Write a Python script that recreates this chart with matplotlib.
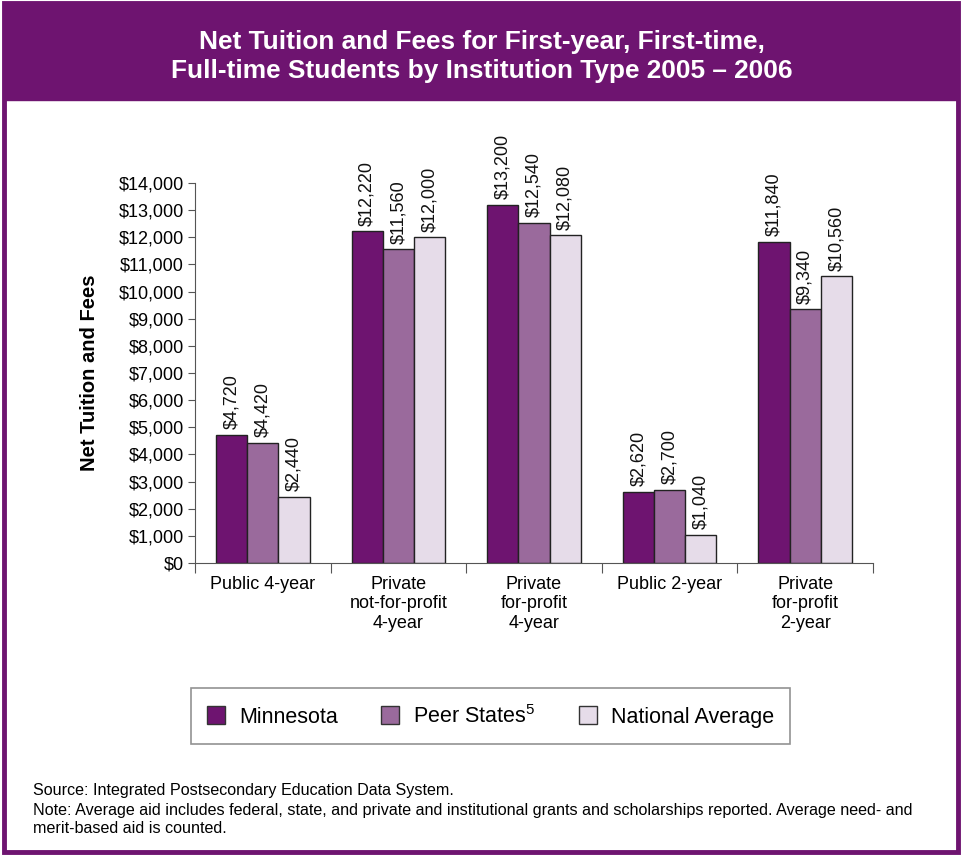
import numpy as np
import matplotlib
matplotlib.use('Agg')
import matplotlib.pyplot as plt
from matplotlib.patches import Rectangle, Patch

plt.rcParams.update({
    'font.family': ['Liberation Sans', 'DejaVu Sans'],
    'mathtext.default': 'regular',
    'font.size': 11,
})

# data
categories = ['Public 4-year', 'Private\nnot-for-profit\n4-year', 'Private\nfor-profit\n4-year',
              'Public 2-year', 'Private\nfor-profit\n2-year']
minnesota = [4720, 12220, 13200, 2620, 11840]
peer_states = [4420, 11560, 12540, 2700, 9340]
national_avg = [2440, 12000, 12080, 1040, 10560]
series_names = ['Minnesota', 'Peer States$^{5}$', 'National Average']
colors = ['#6E1470', '#9A6A9C', '#E6DCE9']

PURPLE = '#6E1470'

fig = plt.figure(figsize=(9.64, 8.55), dpi=100, facecolor='white')

# frame + title band
fig.patches.append(Rectangle((0.004, 0.883), 0.990, 0.114, transform=fig.transFigure,
                             facecolor=PURPLE, edgecolor=PURPLE, linewidth=1, zorder=-2))
fig.patches.append(Rectangle((0.004, 0.003), 0.990, 0.994, transform=fig.transFigure,
                             facecolor='none', edgecolor=PURPLE, linewidth=3.5, zorder=-1))
fig.text(0.5, 0.934, 'Net Tuition and Fees for First-year, First-time,\n'
         'Full-time Students by Institution Type 2005 \u2013 2006',
         ha='center', va='center', color='white', fontsize=18.9, fontweight='bold',
         linespacing=1.3)

ax = fig.add_axes([0.2023, 0.3415, 0.7033, 0.4445])
x = np.arange(len(categories))
w = 0.23
series = [minnesota, peer_states, national_avg]
for i, (vals, c) in enumerate(zip(series, colors)):
    bars = ax.bar(x + (i - 1) * w, vals, width=w, color=c, edgecolor='#222222',
                  linewidth=1.0, zorder=2)
    ax.bar_label(bars, labels=[f'${v:,}' for v in vals], padding=4, rotation=90,
                 fontsize=13, color='#111111')

ax.set_xlim(-0.5, len(categories) - 0.5)
ax.set_ylim(0, 14000)
ax.set_yticks(np.arange(0, 14001, 1000))
ax.set_yticklabels([f'${v:,}' for v in range(0, 14001, 1000)], fontsize=13)
ax.set_xticks(np.arange(-0.5, len(categories), 1))
ax.set_xticklabels([])
ax.set_xticks(x, minor=True)
ax.set_xticklabels(categories, minor=True, fontsize=13, linespacing=1.2, va='top')
ax.tick_params(axis='x', which='minor', length=0, pad=9)
ax.tick_params(axis='x', which='major', length=7, color='#555555', direction='out')
ax.tick_params(axis='y', length=5, color='#555555', pad=3)
for s in ['top', 'right']:
    ax.spines[s].set_visible(False)
for s in ['left', 'bottom']:
    ax.spines[s].set_color('#555555')
ax.set_ylabel('Net Tuition and Fees', fontsize=14.5, fontweight='bold', labelpad=14)

# legend
handles = [Patch(facecolor=c, edgecolor='#333333', linewidth=1) for c in colors]
leg = fig.legend(handles, series_names, loc='center', bbox_to_anchor=(0.509, 0.1625),
                 ncol=3, fontsize=15.5, frameon=True, fancybox=False, edgecolor='#777777',
                 handlelength=0.85, handleheight=0.85, handletextpad=0.65, columnspacing=2.0,
                 borderpad=0.75, borderaxespad=0)
leg.get_frame().set_linewidth(1.2)

# footnotes
fig.text(0.034, 0.076, 'Source: Integrated Postsecondary Education Data System.',
         fontsize=11.6, va='center')
fig.text(0.034, 0.052, 'Note: Average aid includes federal, state, and private and institutional '
         'grants and scholarships reported. Average need- and', fontsize=11.6, va='center')
fig.text(0.034, 0.031, 'merit-based aid is counted.', fontsize=11.6, va='center')

fig.savefig('out.png', dpi=100)
plt.close(fig)
